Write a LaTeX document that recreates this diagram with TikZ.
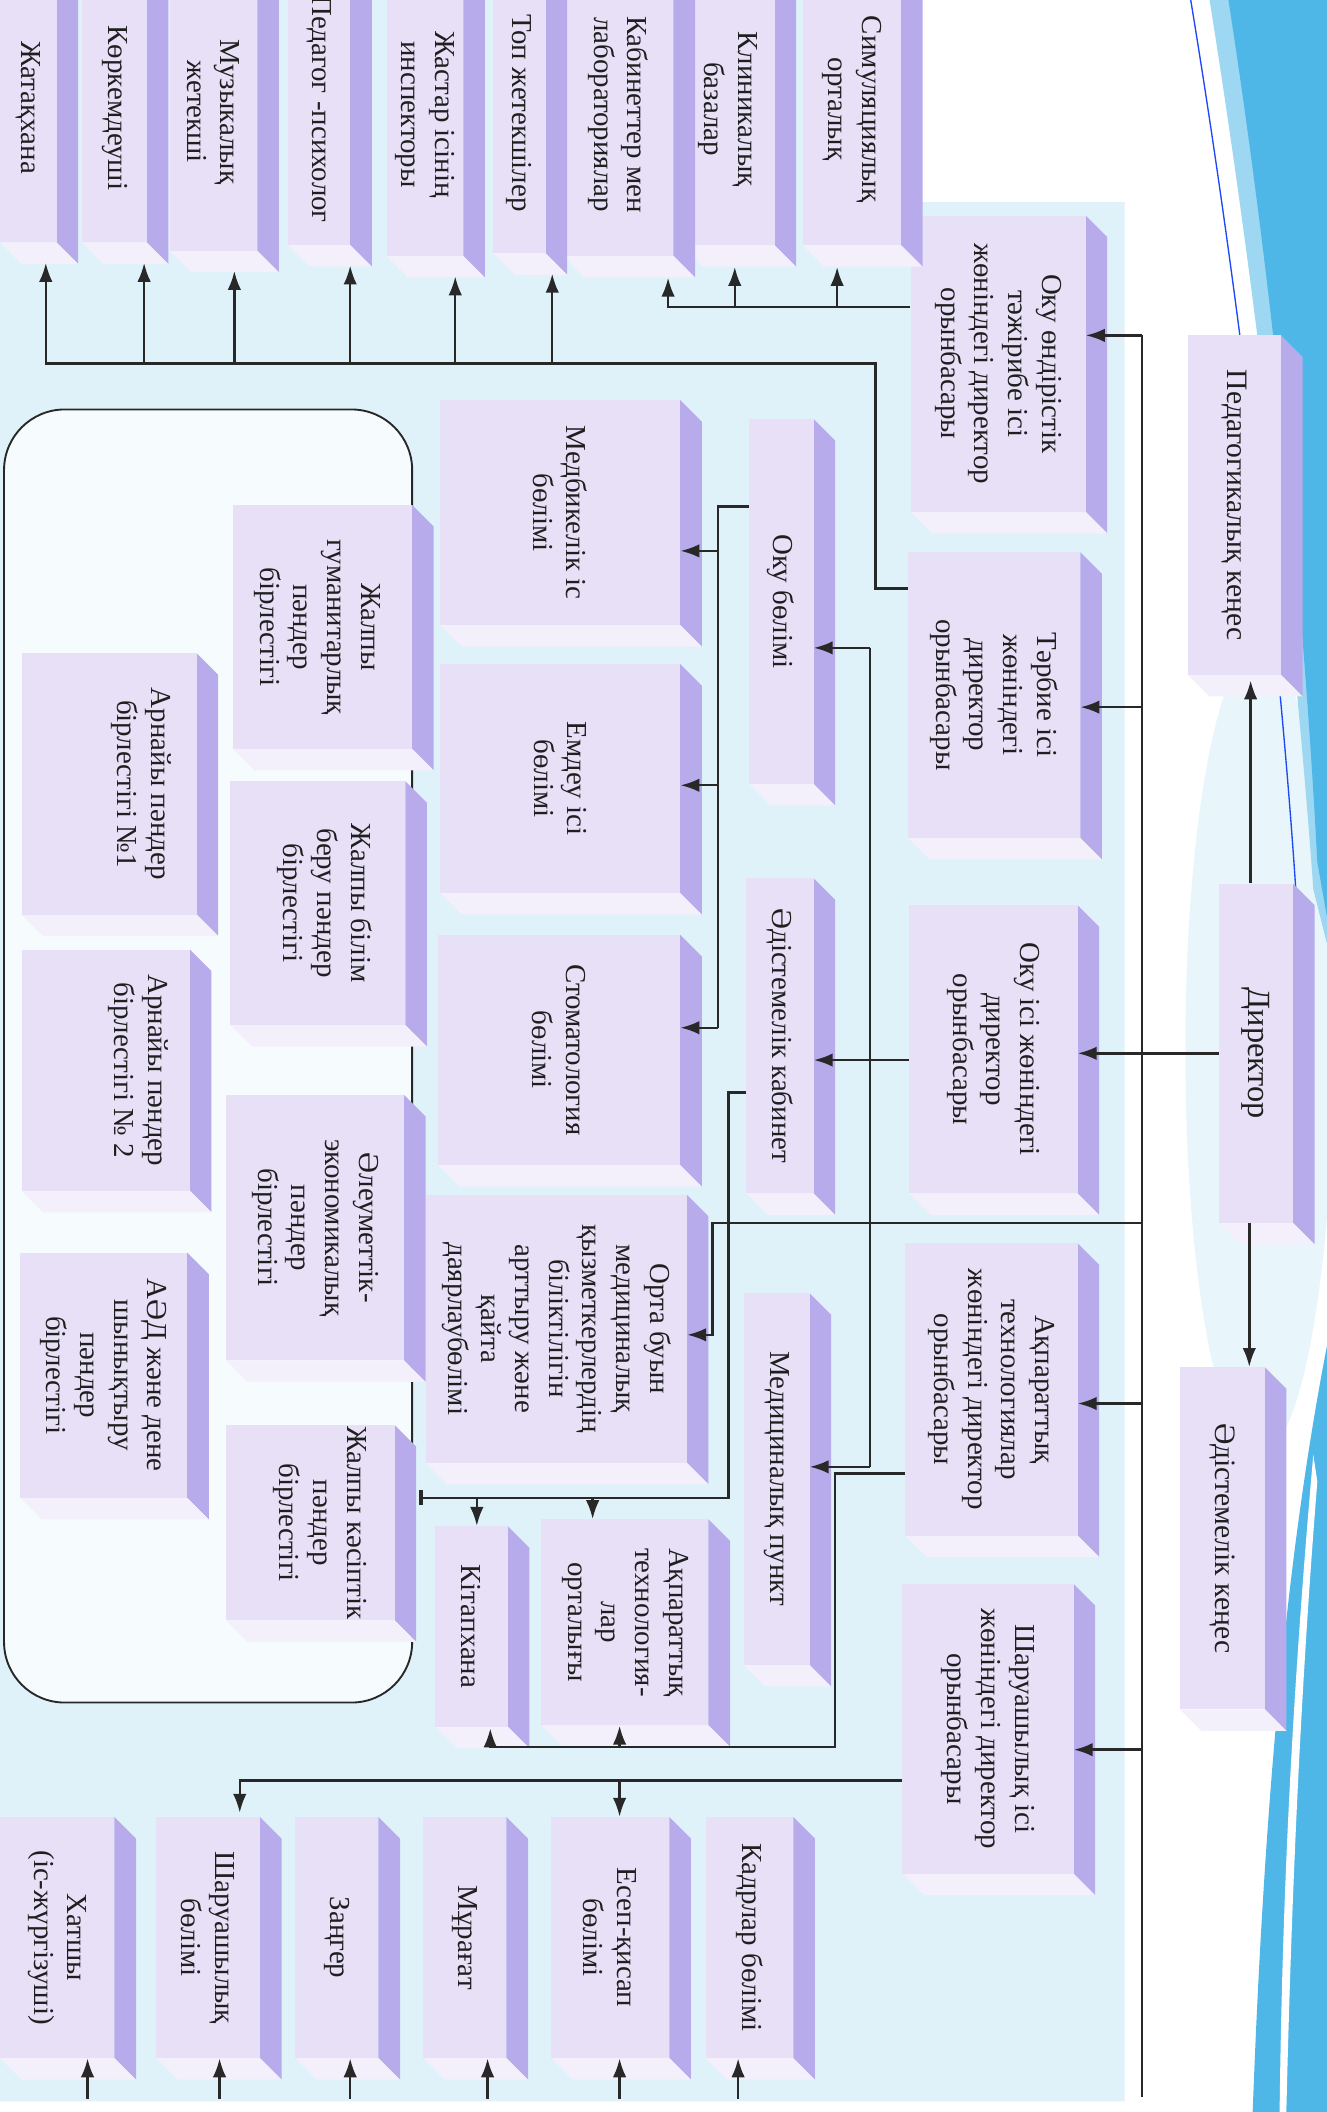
\documentclass[tikz,border=0pt]{standalone}
\usepackage{fontspec}
\setmainfont{Liberation Serif}
\usetikzlibrary{arrows.meta}
\definecolor{facec}{RGB}{231,224,247}
\definecolor{sidec}{RGB}{184,171,235}
\definecolor{botc}{RGB}{243,240,252}
\definecolor{bgblue}{RGB}{223,242,250}
\definecolor{swoosh}{RGB}{78,183,232}
\definecolor{lnc}{RGB}{40,40,40}
\newcommand{\obox}[7]{%
  \fill[sidec] (#4,#3) -- (#4+16,#3+16) -- (#4+16,#5+16) -- (#4,#5) -- cycle;
  \fill[botc] (#2,#5) -- (#4,#5) -- (#4+16,#5+16) -- (#2+16,#5+16) -- cycle;
  \node[obx, minimum width={(#4-#2)*1pt}, minimum height={(#5-#3)*1pt}] (#1) at ({(#2+#4)/2},{(#3+#5)/2}) {};
  \node[txt] (#1-t) at ([xshift=#6pt]#1.center) {#7};
}
\begin{document}
\begin{tikzpicture}[x=1pt,y=-1pt,
  obx/.style={rectangle, fill=facec, draw=none, inner sep=0pt},
  txt/.style={inner sep=0pt, rotate=-90, align=center, font=\fontsize{21.5}{25}\selectfont, text=black!88},
  ln/.style={draw=lnc, line width=1.8pt},
  arr/.style={ln, -{Latex[length=14pt,width=10pt]}}]
\useasboundingbox (0,0) rectangle (985,1568);
\clip (0,0) rectangle (985,1568);
% background
\fill[white] (0,0) rectangle (985,1568);
\fill[bgblue] (0,0) -- (600,0) -- (600,150) -- (835,150) -- (835,1560) -- (0,1560) -- cycle;
\fill[bgblue, opacity=0.7] (935,780) ellipse [x radius=55, y radius=300];
\fill[swoosh!55] (898,0) .. controls (930,200) and (960,450) .. (975,660) -- (985,700) -- (985,0) -- cycle;
\fill[swoosh] (912,0) .. controls (943,200) and (967,430) .. (978,640) -- (985,680) -- (985,0) -- cycle;
\draw[blue!60!swoosh, line width=1pt] (884,0) .. controls (917,200) and (948,450) .. (962,660);
\fill[swoosh] (985,1000) .. controls (960,1130) and (940,1300) .. (930,1568) -- (985,1568) -- cycle;
\fill[white] (975,1080) .. controls (960,1250) and (952,1400) .. (950,1568) -- (955,1568) .. controls (959,1400) and (966,1250) .. (978,1100) -- cycle;
% rounded frame
\draw[ln, line width=1.4pt, fill=white, fill opacity=0.75, rounded corners=45pt] (3,304) rectangle (306,1264);
% right column
\obox{pk}{882}{249}{951}{501}{0}{\fontsize{22}{26}\selectfont Педагогикалық кеңес}
\obox{dir}{905}{656}{960}{908}{0}{\fontsize{24}{28}\selectfont Директор}
\obox{ak}{876}{1015}{939}{1269}{0}{\fontsize{22}{26}\selectfont Әдістемелік кеңес}
% deputies
\obox{d1}{676}{160}{806}{380}{0}{Оку өндірістік\\тәжірибе ісі\\жөніндегі директор\\орынбасары}
\obox{d2}{674}{410}{802}{622}{0}{Тәрбие ісі\\жөніндегі\\директор\\орынбасары}
\obox{d3}{675}{672}{800}{886}{0}{Оку ісі жөніндегі\\директор\\орынбасары}
\obox{d4}{672}{923}{800}{1140}{0}{Ақпараттық\\технологиялар\\жөніндегі директор\\орынбасары}
\obox{d5}{670}{1176}{797}{1391}{0}{Шаруашылық ісі\\жөніндегі директор\\орынбасары}
% third column
\obox{ob}{556}{311}{604}{582}{0}{Оку бөлімі}
\obox{ek}{554}{652}{604}{886}{0}{Әдістемелік кабинет}
\obox{mp}{552}{960}{601}{1236}{0}{Медициналық пункт}
% departments
\obox{mb}{327}{297}{505}{464}{0}{Медбикелік іс\\бөлімі}
\obox{em}{327}{493}{505}{663}{0}{Емдеу ісі\\бөлімі}
\obox{st}{325}{694}{505}{865}{0}{Стоматология\\бөлімі}
\obox{ob2}{316}{887}{510}{1086}{0}{Орта буын\\медициналық\\қызметкерлердің\\біліктілігін\\арттыру және\\қайта\\даярлаубөлімі}
\obox{atc}{402}{1128}{526}{1281}{0}{Ақпараттық\\технология-\\лар\\орталығы}
\obox{kt}{323}{1133}{377}{1282}{0}{Кітапхана}
% bottom row
\obox{kadr}{524}{1349}{589}{1528}{0}{Кадрлар бөлімі}
\obox{esep}{409}{1349}{497}{1528}{0}{Есеп-қисап\\бөлімі}
\obox{mur}{314}{1349}{376}{1528}{0}{Мұрағат}
\obox{zan}{219}{1349}{281}{1528}{0}{Заңгер}
\obox{shb}{116}{1349}{193}{1528}{0}{Шаруашылық\\бөлімі}
\obox{hat}{0}{1349}{85}{1528}{0}{Хатшы\\(іс-жүргізуші)}
% top row
\obox{sim}{596}{-20}{669}{182}{0}{Симуляциялық\\орталық}
\obox{klin}{506}{-20}{575}{182}{0}{Клиникалық\\базалар}
\obox{kab}{418}{-20}{500}{190}{0}{Кабинеттер мен\\лабораториялар}
\obox{top}{366}{-20}{405}{188}{0}{Топ жетекшілер}
\obox{jas}{287}{-20}{344}{190}{0}{Жастар ісінің\\инспекторы}
\obox{ped}{214}{-20}{260}{182}{0}{Педагог -психолог}
\obox{muz}{126}{-20}{191}{186}{0}{Музыкалық\\жетекші}
\obox{kor}{61}{-20}{109}{180}{0}{Көркемдеуші}
\obox{jat}{0}{-20}{42}{180}{0}{Жатақхана}
% inner associations
\obox{g1}{173}{375}{306}{556}{-4}{Жалпы\\гуманитарлық\\пәндер\\бірлестігі}
\obox{g2}{171}{580}{301}{761}{5}{Жалпы білім\\беру пәндер\\бірлестігі}
\obox{g3}{168}{813}{300}{1010}{0}{Әлеуметтік-\\экономикалық\\пәндер\\бірлестігі}
\obox{g4}{168}{1058}{293}{1203}{7}{Жалпы кәсіптік\\пәндер\\бірлестігі}
\obox{a1}{16}{485}{146}{679}{24}{Арнайы пәндер\\бірлестігі №1}
\obox{a2}{16}{705}{141}{884}{24}{Арнайы пәндер\\бірлестігі № 2}
\obox{a3}{15}{930}{139}{1112}{0}{АӘД және дене\\шынықтыру\\пәндер\\бірлестігі}
% ---- connectors ----
% director
\coordinate (dn) at ([xshift=-4pt]dir.north);
\coordinate (ds) at ([xshift=-5pt]dir.south);
\draw[arr, shorten >=4pt] (dn) -- (dn |- pk.south);
\draw[arr] (ds) -- (ds |- ak.north);
\draw[arr] (dir.west) -- (dir.west -| d3.east);
% bus
\coordinate (bt) at (848,249);
\coordinate (bb) at (848,1557);
\draw[ln] (bt) -- (bb);
\draw[arr] (bt) -- (bt -| d1.east);
\coordinate (b2) at (848,525);
\draw[arr] (b2) -- (b2 -| d2.east);
\coordinate (b4) at (848,1042);
\draw[arr] (b4) -- (b4 -| d4.east);
\coordinate (b5) at (848,1299);
\draw[arr] (b5) -- (b5 -| d5.east);
% d1 children
\coordinate (c1) at ([yshift=42pt]d1.west);
\coordinate (tkab) at ([xshift=37pt,yshift=-16pt]kab.south);
\coordinate (tsim) at ([xshift=-11pt,yshift=-16pt]sim.south);
\coordinate (tklin) at ([xshift=5pt,yshift=-16pt]klin.south);
\draw[arr] (c1) -- (c1 -| tkab) -- (tkab);
\draw[arr] (c1 -| tsim) -- (tsim);
\draw[arr] (c1 -| tklin) -- (tklin);
% d2 children
\coordinate (c2a) at ([yshift=79pt]d2.west);
\coordinate (c2c) at (650,270);
\coordinate (tjat) at ([xshift=13pt,yshift=-15pt]jat.south);
\coordinate (tkor) at ([xshift=22pt,yshift=-15pt]kor.south);
\coordinate (tmuz) at ([xshift=15.5pt,yshift=-15pt]muz.south);
\coordinate (tped) at ([xshift=23pt,yshift=-15pt]ped.south);
\coordinate (tjas) at ([xshift=22.5pt,yshift=-15pt]jas.south);
\coordinate (ttop) at ([xshift=24.5pt,yshift=-15pt]top.south);
\draw[arr] (c2a) -| (c2c) -- (c2c -| tjat) -- (tjat);
\foreach \t in {tkor,tmuz,tped,tjas,ttop} \draw[arr] (c2c -| \t) -- (\t);
% Оку бөлімі -> departments
\coordinate (c3a) at ([yshift=70.5pt]ob.west);
\coordinate (c3b) at (533,376);
\coordinate (tmb) at ([yshift=-28.5pt]mb.east);
\coordinate (tem) at ([yshift=-5pt]em.east);
\coordinate (tst) at ([yshift=16.5pt]st.east);
\draw[ln] (c3a) -- (c3b) -- (c3b |- tst);
\draw[arr] (c3b |- tmb) -- (tmb);
\draw[arr] (c3b |- tem) -- (tem);
\draw[arr] (c3b |- tst) -- (tst);
% Оку ісі -> Әдістемелік кабинет, Оку бөлімі, Медициналық пункт
\coordinate (c4a) at ([yshift=-8pt]d3.west);
\draw[arr] (c4a) -- (c4a -| ek.east);
\coordinate (c5a) at (646,481);
\coordinate (c5b) at (646,1089);
\draw[ln] (c5a) -- (c5b);
\draw[arr] (c5a) -- (c5a -| ob.east);
\draw[arr] (c5b) -- (c5b -| mp.east);
% bus -> Орта буын
\coordinate (b3) at (848,908);
\coordinate (j3) at (529,908);
\coordinate (tob2) at ([yshift=-4.5pt]ob2.east);
\draw[arr] (b3) -- (j3) |- (tob2);
% Әдістемелік кабинет -> Кітапхана, АТ орталығы, Жалпы кәсіптік
\coordinate (c6a) at ([yshift=-42pt]ek.west);
\coordinate (c6b) at (541,811);
\coordinate (c6c) at (541,1112);
\coordinate (c6d) at (311,1112);
\draw[ln, -{Bar[width=11pt,line width=3pt]}] (c6a) -- (c6b) -- (c6c) -- (c6d);
\coordinate (tkt1) at ([xshift=4pt]kt.north);
\coordinate (tatc1) at ([xshift=-24pt]atc.north);
\draw[arr] (c6c -| tkt1) -- (tkt1);
\draw[arr] (c6c -| tatc1) -- (tatc1);
% Ақпараттық -> Кітапхана, АТ орталығы
\coordinate (c7a) at ([yshift=-62.5pt]d4.west);
\coordinate (c7b) at (620,1094);
\coordinate (c7c) at (620,1297);
\coordinate (tkt2) at ([xshift=14pt,yshift=-1pt]kt.south);
\coordinate (tatc2) at ([xshift=-4pt]atc.south);
\draw[arr] (c7a) -- (c7b) -- (c7c) -- (c7c -| tkt2) -- (tkt2);
\draw[arr] (c7c -| tatc2) -- (tatc2);
% Шаруашылық -> Шаруашылық бөлімі, Есеп-қисап
\coordinate (c8a) at ([yshift=-38.5pt]d5.west);
\coordinate (tshb) at ([xshift=23.5pt,yshift=3pt]shb.north);
\coordinate (tesep) at ([xshift=7pt]esep.north);
\draw[arr] (c8a) -- (c8a -| tshb) -- (tshb);
\draw[arr] (c8a -| tesep) -- (tesep);
% bottom stubs
\foreach \b/\dx in {kadr/-8.5pt, esep/7pt, mur/17pt, zan/10pt, shb/8.5pt, hat/22.5pt} {
  \coordinate (s-\b) at ([xshift=\dx]\b.south);
  \draw[arr] ([yshift=-30pt]s-\b) -- (s-\b);
}
\end{tikzpicture}
\end{document}
